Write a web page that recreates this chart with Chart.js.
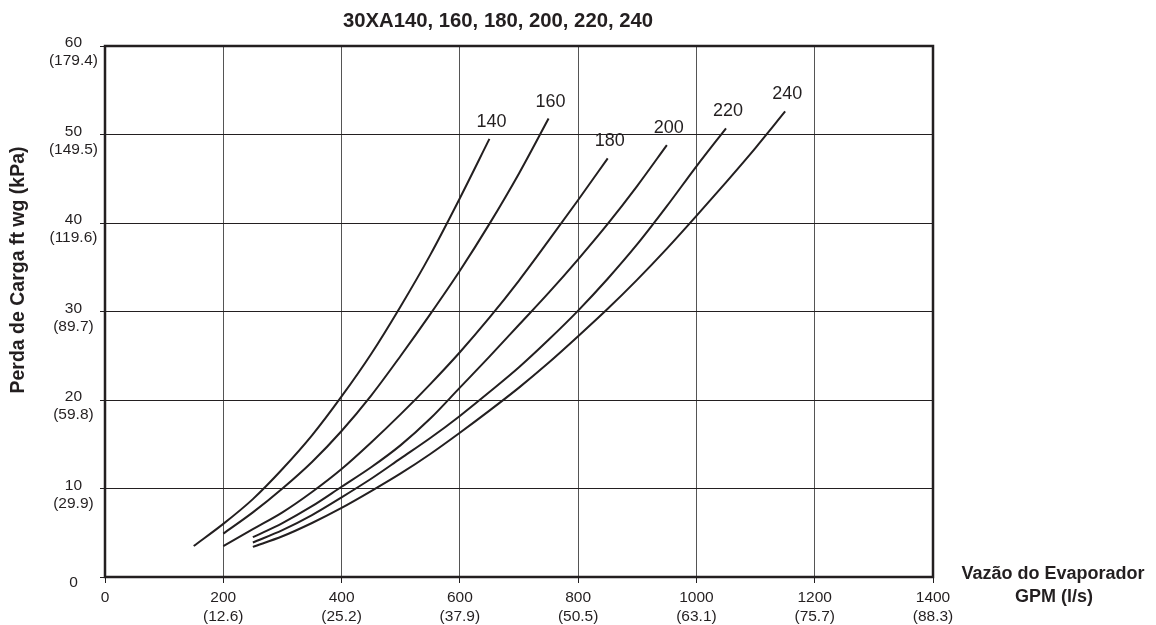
<!DOCTYPE html>
<html>
<head>
<meta charset="utf-8">
<script src="https://cdn.jsdelivr.net/npm/chart.js@4.4.1/dist/chart.umd.min.js"></script>
<style>
  html, body { margin: 0; padding: 0; background: #ffffff; }
  #wrap { width: 1156px; height: 625px; }
</style>
</head>
<body>
<div id="wrap"><canvas id="c" width="1156" height="625"></canvas></div>
<script>
// ---- data ----
const chartTitle = "30XA140, 160, 180, 200, 220, 240";
const yTitle = "Perda de Carga ft wg (kPa)";
const xTitleLines = ["Vazão do Evaporador", "GPM (l/s)"];

const gpmTicks = [0, 200, 400, 600, 800, 1000, 1200, 1400];
const lpsTicks = ["", "(12.6)", "(25.2)", "(37.9)", "(50.5)", "(63.1)", "(75.7)", "(88.3)"];
const ftTicks  = [0, 10, 20, 30, 40, 50, 60];
const kpaTicks = ["", "(29.9)", "(59.8)", "(89.7)", "(119.6)", "(149.5)", "(179.4)"];

const seriesNames = ["140", "160", "180", "200", "220", "240"];

const gpm140 = [150, 200, 250, 300, 350, 400, 450, 500, 550, 600, 650];
const dp140  = [3.5, 6.0, 8.8, 12.2, 16.0, 20.4, 25.2, 30.6, 36.4, 42.8, 49.5];

const gpm160 = [200, 250, 300, 350, 400, 450, 500, 550, 600, 650, 700, 750];
const dp160  = [4.9, 7.3, 10.0, 13.0, 16.5, 20.5, 25.0, 29.7, 34.6, 39.9, 45.6, 51.8];

const gpm180 = [200, 250, 300, 350, 400, 450, 500, 550, 600, 650, 700, 750, 800, 850];
const dp180  = [3.5, 5.4, 7.3, 9.6, 12.2, 15.2, 18.4, 21.8, 25.4, 29.3, 33.5, 38.0, 42.6, 47.3];

const gpm200 = [250, 300, 350, 400, 450, 500, 550, 600, 650, 700, 750, 800, 850, 900, 950];
const dp200  = [4.5, 6.1, 8.0, 10.2, 12.4, 14.9, 17.9, 21.4, 24.9, 28.5, 32.1, 35.9, 39.9, 44.2, 48.8];

const gpm220 = [250, 300, 350, 400, 450, 500, 550, 600, 650, 700, 750, 800, 850, 900, 950, 1000, 1050];
const dp220  = [3.9, 5.3, 7.0, 9.0, 11.1, 13.4, 15.7, 18.2, 20.9, 23.7, 26.8, 30.1, 33.7, 37.6, 41.9, 46.4, 50.7];

const gpm240 = [250, 300, 350, 400, 450, 500, 550, 600, 650, 700, 750, 800, 850, 900, 950, 1000, 1050, 1100, 1150];
const dp240  = [3.4, 4.6, 6.1, 7.8, 9.7, 11.7, 13.9, 16.3, 18.8, 21.4, 24.2, 27.2, 30.3, 33.6, 37.1, 40.8, 44.6, 48.5, 52.6];

const gpmSets = [gpm140, gpm160, gpm180, gpm200, gpm220, gpm240];
const dpSets  = [dp140, dp160, dp180, dp200, dp220, dp240];

// ---- styling ----
const INK = '#231f20';
const FONT = "'Liberation Sans', Arial, Helvetica, sans-serif";

const datasets = seriesNames.map((name, i) => ({
  label: name,
  data: gpmSets[i].map((g, k) => ({ x: g, y: dpSets[i][k] })),
  borderColor: INK,
  borderWidth: 2,
  pointRadius: 0,
  fill: false,
  cubicInterpolationMode: 'monotone'
}));

const bgPlugin = {
  id: 'bg',
  beforeDraw(chart) {
    const ctx = chart.ctx;
    ctx.save();
    ctx.fillStyle = '#ffffff';
    ctx.fillRect(0, 0, chart.width, chart.height);
    ctx.restore();
  }
};

const decorPlugin = {
  id: 'decor',
  afterDatasetsDraw(chart) {
    const ctx = chart.ctx;
    const a = chart.chartArea;
    ctx.save();
    // frame
    ctx.strokeStyle = INK;
    ctx.lineWidth = 2.5;
    ctx.strokeRect(a.left, a.top, a.right - a.left, a.bottom - a.top);

    // curve labels at the end of each curve
    ctx.fillStyle = INK;
    ctx.font = "18px " + FONT;
    ctx.textAlign = 'center';
    ctx.textBaseline = 'middle';
    chart.data.datasets.forEach((ds, i) => {
      const meta = chart.getDatasetMeta(i);
      const last = meta.data[meta.data.length - 1];
      ctx.fillText(ds.label, last.x + 2, last.y - 17);
    });

    // title
    ctx.font = "bold 20.3px " + FONT;
    ctx.textBaseline = 'alphabetic';
    ctx.fillText(chartTitle, 498, 27);

    // y title
    ctx.save();
    ctx.translate(24, 270);
    ctx.rotate(-Math.PI / 2);
    ctx.font = "bold 19.5px " + FONT;
    ctx.textAlign = 'center';
    ctx.textBaseline = 'alphabetic';
    ctx.fillText(yTitle, 0, 0);
    ctx.restore();

    // x title
    ctx.font = "bold 18px " + FONT;
    ctx.textAlign = 'center';
    ctx.textBaseline = 'middle';
    ctx.fillText(xTitleLines[0], 1053, 574);
    ctx.fillText(xTitleLines[1], 1054, 597);
    ctx.restore();
  }
};

new Chart(document.getElementById('c'), {
  type: 'line',
  data: { datasets },
  options: {
    responsive: false,
    devicePixelRatio: 1,
    animation: false,
    layout: { padding: { top: 46, right: 223, bottom: 0, left: 0 } },
    plugins: { legend: { display: false }, tooltip: { enabled: false }, title: { display: false } },
    scales: {
      x: {
        type: 'linear',
        min: 0, max: 1400,
        afterBuildTicks(scale) { scale.ticks = gpmTicks.map(v => ({ value: v })); },
        afterFit(scale) { scale.height = 48; },
        grid: { color: '#555', lineWidth: 1, tickLength: 6, tickColor: INK, drawTicks: true },
        border: { display: false },
        ticks: {
          color: INK,
          font: { family: FONT, size: 15.5, lineHeight: 1.18 },
          padding: 6,
          maxRotation: 0,
          autoSkip: false,
          callback(v) {
            const i = gpmTicks.indexOf(v);
            return lpsTicks[i] ? [String(v), lpsTicks[i]] : String(v);
          }
        }
      },
      y: {
        type: 'linear',
        min: 0, max: 60,
        afterBuildTicks(scale) { scale.ticks = ftTicks.map(v => ({ value: v })); },
        afterFit(scale) { scale.width = 105; },
        grid: { color: INK, lineWidth: 1, tickLength: 5, tickColor: INK, drawTicks: true },
        border: { display: false },
        ticks: {
          color: INK,
          font: { family: FONT, size: 15.5, lineHeight: 1.18 },
          padding: 2,
          crossAlign: 'center',
          labelOffset: 6,
          autoSkip: false,
          callback(v) {
            const i = ftTicks.indexOf(v);
            return kpaTicks[i] ? [String(v), kpaTicks[i]] : String(v);
          }
        }
      }
    }
  },
  plugins: [bgPlugin, decorPlugin]
});
</script>
</body>
</html>
